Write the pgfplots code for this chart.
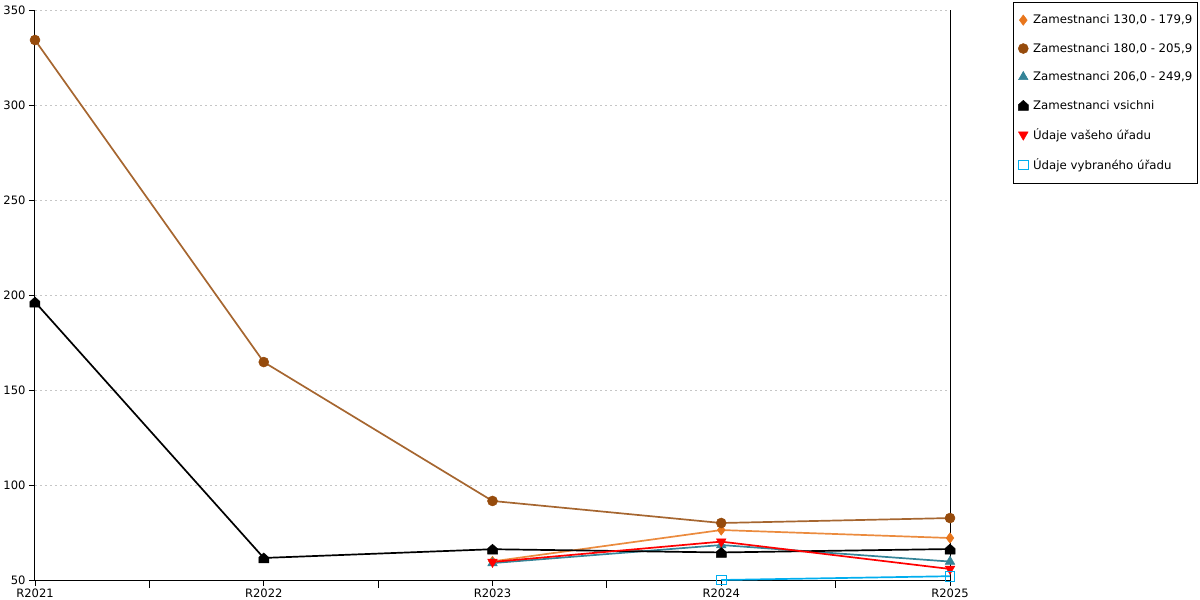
\documentclass[border=0pt]{standalone}
\usepackage{fontspec}
\setmainfont{DejaVu Sans}
\usepackage{pgfplots}
\pgfplotsset{compat=1.18}
\definecolor{corange}{RGB}{232,118,28}
\definecolor{cbrown}{RGB}{150,75,12}
\definecolor{cteal}{RGB}{52,132,152}
\definecolor{cred}{RGB}{255,0,0}
\definecolor{cblue}{RGB}{0,174,239}
\pgfdeclareplotmark{house}{%
  \pgfpathmoveto{\pgfqpoint{-\pgfplotmarksize}{-\pgfplotmarksize}}%
  \pgfpathlineto{\pgfqpoint{\pgfplotmarksize}{-\pgfplotmarksize}}%
  \pgfpathlineto{\pgfqpoint{\pgfplotmarksize}{0.1\pgfplotmarksize}}%
  \pgfpathlineto{\pgfqpoint{0pt}{\pgfplotmarksize}}%
  \pgfpathlineto{\pgfqpoint{-\pgfplotmarksize}{0.1\pgfplotmarksize}}%
  \pgfpathclose\pgfusepathqfillstroke}
\begin{document}
\begin{tikzpicture}
\begin{axis}[
  scale only axis, width=915bp, height=570bp,
  xmin=0, xmax=4, ymin=50, ymax=350,
  clip=false,
  axis x line*=bottom, axis y line*=left,
  axis line style={line width=1bp, -},
  xtick={0,1,2,3,4},
  xticklabels={R2021,R2022,R2023,R2024,R2025},
  minor xtick={0.5,1.5,2.5,3.5},
  ytick={50,100,150,200,250,300,350},
  tick style={black, line width=0.9bp},
  major tick length=6bp, minor tick length=8bp,
  tick align=outside,
  minor tick style={black},
  ymajorgrids,
  major grid style={draw=gray!45, line width=0.7bp, dash pattern=on 2bp off 3bp},
  ticklabel style={font=\fontsize{11.6}{13}\selectfont},
  /pgf/number format/assume math mode=true,
  yticklabel style={xshift=0bp},
  xticklabel style={yshift=1bp},
  legend cell align=left,
  legend style={at={(1.0689,1.014)}, anchor=north west, draw=black, line width=0.8bp,
    font=\fontsize{11.8}{14}\selectfont, row sep=14bp, inner xsep=3bp, inner ysep=10.5bp},
  legend image code/.code={\path (0bp,0bp) (13bp,0bp); \draw[#1,only marks] plot coordinates {(6bp,0bp)};},
  every axis plot/.append style={line width=1.7bp},
]
\addplot[color=corange!85!white, mark=diamond*, mark size=5.2bp, mark options={fill=corange, draw=corange, line width=0.5bp}]
  coordinates {(2,59.8) (3,76.3) (4,72.1)};
\addlegendentry{Zamestnanci 130,0 - 179,9}
\addplot[color=cbrown!85!white, mark=*, mark size=5bp, mark options={fill=cbrown, draw=cbrown, line width=0.5bp}]
  coordinates {(0,334.2) (1,164.7) (2,91.6) (3,80.0) (4,82.6)};
\addlegendentry{Zamestnanci 180,0 - 205,9}
\addplot[color=cteal, mark=triangle*, mark size=5.5bp, mark options={fill=cteal, draw=cteal, line width=0.5bp}]
  coordinates {(2,58.9) (3,68.4) (4,59.7)};
\addlegendentry{Zamestnanci 206,0 - 249,9}
\addplot[color=black, mark=house, mark size=5bp, mark options={fill=black, draw=black, line width=0.5bp}]
  coordinates {(0,196.3) (1,61.6) (2,66.2) (3,64.5) (4,66.3)};
\addlegendentry{Zamestnanci vsichni}
\addplot[color=cred, mark=triangle*, mark size=5.5bp, mark options={rotate=180, fill=cred, draw=cred, line width=0.5bp}]
  coordinates {(2,59.5) (3,70.2) (4,55.8)};
\addlegendentry{Údaje vašeho úřadu}
\addplot[color=cblue, mark=square, mark size=4.8bp, mark options={fill=white, draw=cblue, line width=1bp}]
  coordinates {(3,50.0) (4,52.0)};
\addlegendentry{Údaje vybraného úřadu}
\draw[black, line width=1bp] (rel axis cs:1,0) -- (rel axis cs:1,1);
\coordinate (O) at (rel axis cs:0,0);
\end{axis}
\pgfresetboundingbox
\path[use as bounding box] (O) ++(-35bp,-20bp) rectangle ++(1200bp,600bp);
\end{tikzpicture}
\end{document}
